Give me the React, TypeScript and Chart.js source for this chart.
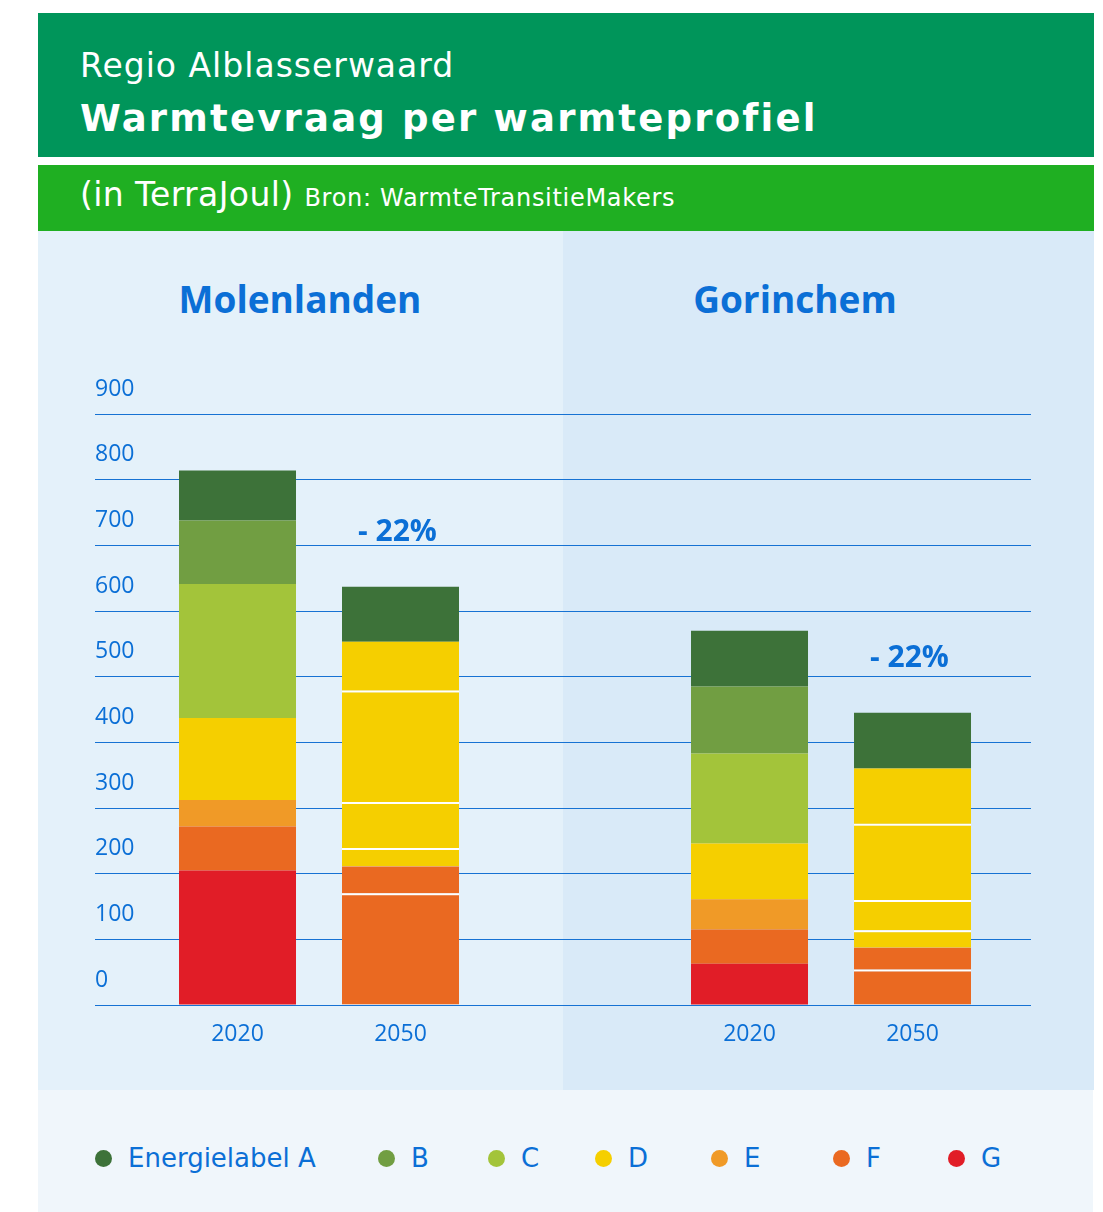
import React, { useEffect, useRef } from 'react';
import { Chart, registerables } from 'chart.js';

Chart.register(...registerables);

// ---------- data ----------
const regions = ['Molenlanden', 'Gorinchem'];
const years = ['2020', '2050'];
const energyLabels = ['A', 'B', 'C', 'D', 'E', 'F', 'G'];
const legendNames = ['Energielabel A', 'B', 'C', 'D', 'E', 'F', 'G'];
// heat demand (TJ) per 2020 energy label class, A..G
const molenlanden2020 = [76, 97, 204, 125, 40, 67, 205];
const molenlanden2050 = [84, 74, 170, 70, 28, 41, 170];
const gorinchem2020 = [85, 102, 137, 85, 46, 52, 63];
const gorinchem2050 = [85, 84, 116, 46, 27, 33, 54];
// energy label of each 2020 class after renovation (2050)
const label2050 = ['A', 'D', 'D', 'D', 'D', 'F', 'F'];
const yMax = 900;
const yStep = 100;

// ---------- styles ----------
const labelColors: Record<string, string> = {
  A: '#3D7239',
  B: '#719E42',
  C: '#A3C43A',
  D: '#F5CF00',
  E: '#F09A27',
  F: '#EA6921',
  G: '#E11D27',
};
const BLUE = '#0B6FD6';
const GRID = '#1672D3';
const CHART_FONT = '"Open Sans", "Noto Sans", sans-serif';
const HEAD_FONT = '"DejaVu Sans", "Noto Sans", sans-serif';

const sum = (a: number[]) => a.reduce((s, v) => s + v, 0);

export default function App() {
  const canvasRef = useRef<HTMLCanvasElement | null>(null);

  useEffect(() => {
    if (!canvasRef.current) return;
    const series = [
      [molenlanden2020, gorinchem2020],
      [molenlanden2050, gorinchem2050],
    ];
    const targets = [energyLabels, label2050];
    const bottomUp = energyLabels.map((_, i) => energyLabels.length - 1 - i);

    const datasets: any[] = [];
    years.forEach((year, yi) => {
      bottomUp.forEach((k, pos) => {
        const lab = targets[yi][k];
        const aboveK = bottomUp[pos + 1];
        const sep = aboveK !== undefined && targets[yi][aboveK] === lab;
        datasets.push({
          label: `${year} ${energyLabels[k]}`,
          stack: year,
          data: regions.map((_, ri) => ({ x: ri, y: series[yi][ri][k] })),
          backgroundColor: labelColors[lab],
          borderColor: '#FFFFFF',
          borderWidth: sep ? { top: 2, left: 0, right: 0, bottom: 0 } : 0,
          categoryPercentage: 0.6367,
          barPercentage: 0.7178,
        });
      });
    });

    const nPerStack = energyLabels.length;

    const annotate = {
      id: 'annotate',
      afterDatasetsDraw(chart: any) {
        const ctx = chart.ctx;
        const area = chart.chartArea;
        ctx.save();
        ctx.fillStyle = BLUE;
        ctx.textAlign = 'center';
        ctx.textBaseline = 'middle';
        ctx.font = `400 23px ${CHART_FONT}`;
        years.forEach((year, yi) => {
          const meta = chart.getDatasetMeta(yi * nPerStack);
          meta.data.forEach((bar: any) => {
            ctx.fillText(year, bar.x, area.bottom + 29);
          });
        });
        ctx.font = `700 30px ${CHART_FONT}`;
        const topMeta = chart.getDatasetMeta(datasets.length - 1);
        regions.forEach((_, ri) => {
          const t0 = sum(series[0][ri]);
          const t1 = sum(series[1][ri]);
          const pct = Math.round((1 - t1 / t0) * 100);
          const bar = topMeta.data[ri];
          ctx.fillText(`- ${pct}%`, bar.x - 3, bar.y - 54);
        });
        ctx.restore();
      },
    };

    const chart = new Chart(canvasRef.current, {
      type: 'bar',
      data: { datasets },
      options: {
        animation: false,
        responsive: false,
        devicePixelRatio: 1,
        layout: { padding: { left: 57, right: 63, top: 183, bottom: 85 } },
        plugins: {
          legend: { display: false },
          tooltip: { enabled: false },
        },
        scales: {
          x: {
            type: 'linear',
            stacked: true,
            offset: false,
            min: -0.4375,
            max: 1.3906,
            display: false,
            afterBuildTicks: (s: any) => {
              s.ticks = regions.map((_, i) => ({ value: i }));
            },
          },
          y: {
            stacked: true,
            min: 0,
            max: yMax,
            ticks: {
              stepSize: yStep,
              mirror: true,
              padding: 0,
              labelOffset: -25,
              color: BLUE,
              font: { family: CHART_FONT, size: 23, weight: '400' },
            },
            grid: { color: GRID, lineWidth: 1, drawTicks: false },
            border: { display: false },
          },
        },
      } as any,
      plugins: [annotate],
    });
    return () => chart.destroy();
  }, []);

  const abs = (s: React.CSSProperties): React.CSSProperties => ({ position: 'absolute', ...s });
  const legendLefts = [95, 378, 488, 595, 711, 833, 948];

  return (
    <div style={abs({ left: 0, top: 0, width: 1103, height: 1212, background: '#FFFFFF', overflow: 'hidden' })}>
      <div style={abs({ left: 38, top: 13, width: 1056, height: 144, background: '#00955A' })} />
      <div
        style={abs({
          left: 80, top: 49, fontFamily: HEAD_FONT, fontSize: 33, lineHeight: '33px', letterSpacing: 1,
          color: '#FFFFFF', whiteSpace: 'nowrap',
        })}
      >
        Regio Alblasserwaard
      </div>
      <div
        style={abs({
          left: 80, top: 99.5, fontFamily: HEAD_FONT, fontSize: 37, fontWeight: 700, lineHeight: '37px',
          letterSpacing: 2.2, color: '#FFFFFF', whiteSpace: 'nowrap',
        })}
      >
        Warmtevraag per warmteprofiel
      </div>
      <div style={abs({ left: 38, top: 165, width: 1056, height: 66, background: '#1FAF22' })} />
      <div
        style={abs({
          left: 80, top: 178, fontFamily: HEAD_FONT, fontSize: 33, lineHeight: '33px', letterSpacing: 0.4,
          color: '#FFFFFF', whiteSpace: 'nowrap',
        })}
      >
        (in TerraJoul) <span style={{ fontSize: 24, letterSpacing: 0.7 }}>Bron: WarmteTransitieMakers</span>
      </div>
      <div style={abs({ left: 38, top: 231, width: 525, height: 859, background: '#E4F1FA' })} />
      <div style={abs({ left: 563, top: 231, width: 531, height: 859, background: '#D9EAF8' })} />
      <div style={abs({ left: 38, top: 1090, width: 1055, height: 122, background: '#F0F6FB' })} />
      {regions.map((r, i) => (
        <div
          key={r}
          style={abs({
            left: (i === 0 ? 300 : 795) - 200, top: 280, width: 400, textAlign: 'center',
            fontFamily: CHART_FONT, fontSize: 37, fontWeight: 700, lineHeight: '37px', color: BLUE,
          })}
        >
          {r}
        </div>
      ))}
      <canvas
        ref={canvasRef}
        width={1056}
        height={859}
        style={abs({ left: 38, top: 231, width: 1056, height: 859 })}
      />
      {legendNames.map((name, i) => (
        <div
          key={name}
          style={abs({
            left: legendLefts[i], top: 1140, height: 36, display: 'flex', alignItems: 'center',
            fontFamily: HEAD_FONT, fontSize: 26, color: BLUE, whiteSpace: 'nowrap',
          })}
        >
          <span
            style={{
              display: 'inline-block', width: 17, height: 17, borderRadius: '50%',
              background: labelColors[energyLabels[i]], marginRight: 16,
            }}
          />
          {name}
        </div>
      ))}
    </div>
  );
}
